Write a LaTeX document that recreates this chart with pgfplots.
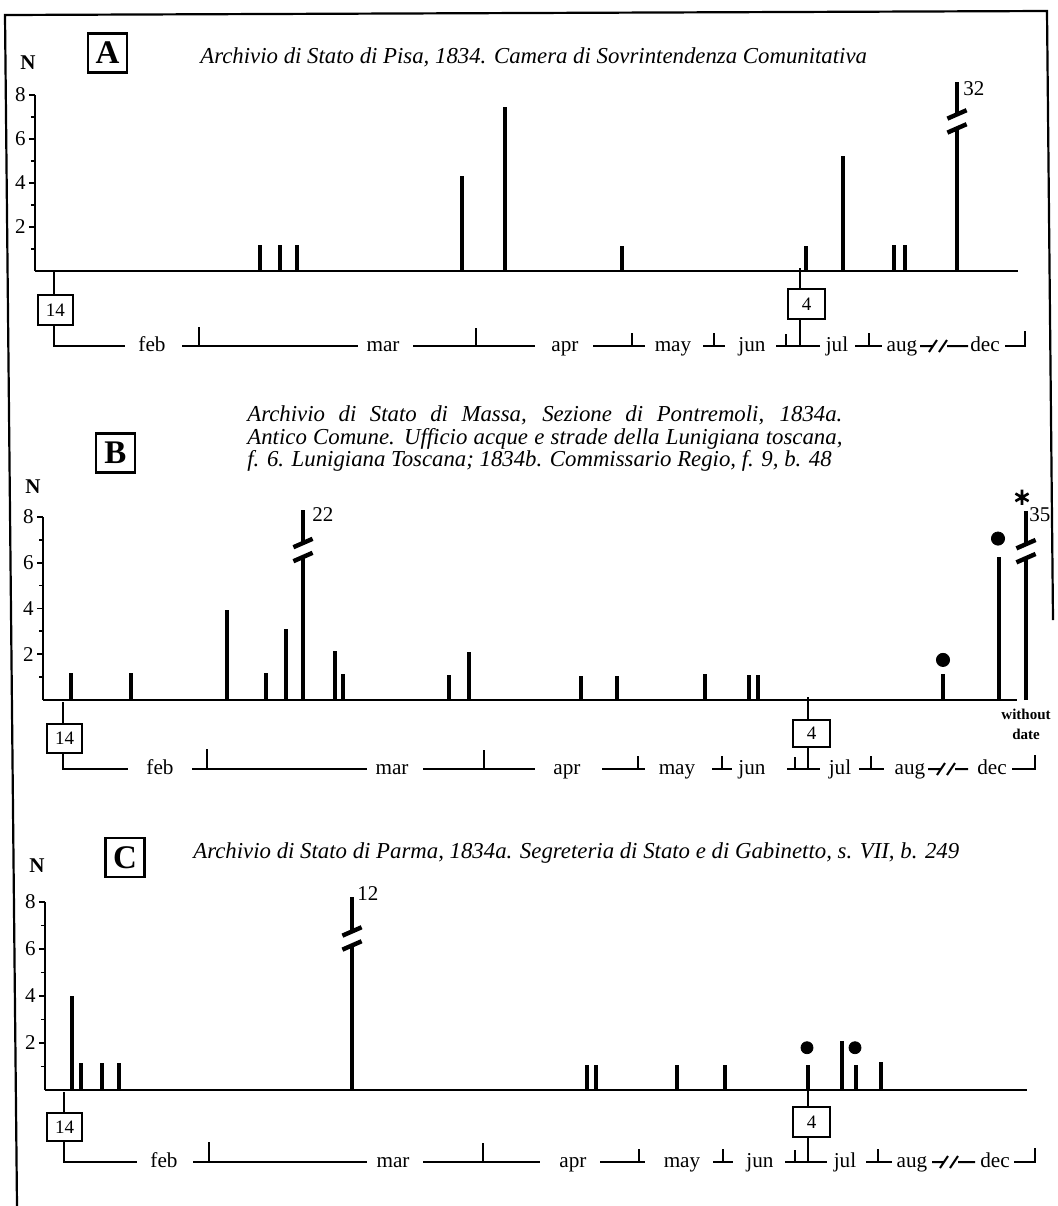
\documentclass[border=0pt]{standalone}
\usepackage{pgfplots}
\pgfplotsset{compat=1.18}
\usepackage{fontspec}
\setmainfont{Liberation Serif}

% axis break: white gap with two slanted strokes
\pgfdeclareplotmark{brk}{%
  \pgfscope
  \pgfsetfillcolor{white}
  \pgfpathmoveto{\pgfqpoint{-2.4pt}{-4.4pt}}
  \pgfpathlineto{\pgfqpoint{2.4pt}{-2.3pt}}
  \pgfpathlineto{\pgfqpoint{2.4pt}{4.4pt}}
  \pgfpathlineto{\pgfqpoint{-2.4pt}{2.3pt}}
  \pgfpathclose
  \pgfusepath{fill}
  \pgfsetlinewidth{2.2pt}
  \pgfsetstrokecolor{black}
  \pgfpathmoveto{\pgfqpoint{-4.8pt}{-5.6pt}}
  \pgfpathlineto{\pgfqpoint{4.8pt}{-1.4pt}}
  \pgfpathmoveto{\pgfqpoint{-4.8pt}{1.4pt}}
  \pgfpathlineto{\pgfqpoint{4.8pt}{5.6pt}}
  \pgfusepath{stroke}
  \endpgfscope
}

\newcommand{\ttl}{\itshape\fontsize{11.4}{11.4}\selectfont}
\newcommand{\mfont}{\fontsize{10.6}{10.6}\selectfont}

\pgfplotsset{
  panel/.style={
    x=0.5pt, scale only axis, anchor=south west,
    axis lines=left, axis line style={-, line width=1.3pt},
    every outer x axis line/.append style={-},
    every outer y axis line/.append style={-},
    enlargelimits=false, clip=false,
    ymin=0, ymax=8, ytick={2,4,6,8}, minor ytick={1,3,5,7},
    xtick=\empty, tick align=outside, ytick pos=left,
    major tick length=3pt, minor tick length=2pt,
    tick style={line width=0.9pt, black},
    yticklabel style={font=\fontsize{10.5}{10.5}\selectfont, inner sep=1.5pt},
    /pgf/number format/assume math mode=true,
  },
  spike/.style={ycomb, black, line width=1.8pt, mark=none},
  brkmark/.style={only marks, mark=brk},
  dots/.style={only marks, mark=*, black, mark size=3.3pt},
}

\tikzset{
  tl/.style={line width=1pt},
  mon/.style={anchor=base, inner sep=0, font=\mfont},
  dbox/.style={draw, line width=1pt, inner sep=0, font=\fontsize{9.5}{9.5}\selectfont},
  pbox/.style={draw, line width=1.1pt, inner sep=0, minimum width=19.5pt, minimum height=19.5pt,
    font=\bfseries\fontsize{16.5}{16.5}\selectfont},
  nlab/.style={font=\bfseries\fontsize{10.5}{10.5}\selectfont, inner sep=0},
  num/.style={anchor=west, inner sep=0, font=\fontsize{10.5}{10.5}\selectfont},
}

\begin{document}
\begin{tikzpicture}
% axes: positions in pt (1 px of the reference = 0.5pt, y downwards = negative)
\begin{axis}[panel, y=11pt, xmin=35, xmax=1018, at={(17.5pt,-135.5pt)}]
\addplot[spike] coordinates {(260,1.2) (280,1.2) (297,1.2) (462,4.3) (505,7.45)
  (622,1.15) (806,1.15) (843,5.25) (894,1.2) (905,1.2) (957,8.6)};
\addplot[brkmark] coordinates {(957,6.8)};
\node[num] at (axis cs:963,8.3) {32};
\end{axis}

\begin{axis}[panel, y=11.45pt, xmin=43, xmax=1017, at={(21.5pt,-350pt)}]
\addplot[spike] coordinates {(71,1.2) (131,1.2) (227,3.95) (266,1.2) (286,3.1)
  (303,8.3) (335,2.15) (343,1.15) (449,1.1) (469,2.1) (581,1.05) (617,1.05)
  (705,1.15) (749,1.1) (758,1.1) (943,1.15) (999,6.25) (1026,8.25)};
\addplot[brkmark] coordinates {(303,6.55) (1026,6.5)};
\addplot[dots] coordinates {(943,1.75) (998,7.05)};
\addplot[only marks, mark=asterisk, black, mark size=3.8pt, line width=1.3pt]
  coordinates {(1022,8.85)};
\node[num] at (axis cs:312,8.1) {22};
\node[num] at (axis cs:1029,8.1) {35};
\end{axis}

\begin{axis}[panel, y=11.75pt, xmin=45, xmax=1027, at={(22.5pt,-545pt)}]
\addplot[spike] coordinates {(72,4.0) (81,1.15) (102,1.15) (119,1.15) (352,8.2)
  (587,1.06) (596,1.06) (677,1.06) (725,1.06) (808,1.06) (842,2.1) (856,1.06) (881,1.2)};
\addplot[brkmark] coordinates {(352,6.45)};
\addplot[dots, mark size=3pt] coordinates {(807,1.8) (855,1.8)};
\node[num] at (axis cs:357,8.35) {12};
\end{axis}

\begin{scope}[x=0.5pt, y=-0.5pt]
\useasboundingbox (0,0) rectangle (1057,1206);

% outer frame
\draw[line width=1.1pt] (17,1206) -- (5,15) -- (1047,11) -- (1053,620);

% ---------------- panel A ----------------
\node[pbox] at (107.5,53) {A};
\node[nlab] at (28,63) {N};
\node[anchor=base west, inner sep=0, font=\ttl] at (200,63)
  {Archivio di Stato di Pisa, 1834. Camera di Sovrintendenza Comunitativa};

\draw[tl] (54,271) -- (54,295);
\node[dbox, minimum width=17.5pt, minimum height=15pt] at (55.5,310) {14};
\draw[tl] (54,325) -- (54,346) -- (125,346);
\node[mon] at (152,351) {feb};
\draw[tl] (182,346) -- (358,346) (199,346) -- (199,327);
\node[mon] at (383,351) {mar};
\draw[tl] (413,346) -- (535,346) (476,346) -- (476,328);
\node[mon] at (565,351) {apr};
\draw[tl] (593,346) -- (645,346) (632,346) -- (632,333);
\node[mon] at (673,351) {may};
\draw[tl] (703,346) -- (725,346) (714,346) -- (714,333);
\node[mon] at (752,351) {jun};
\draw[tl] (776,346) -- (820,346) (786,346) -- (786,334);
\draw[tl] (800,268) -- (800,289) (800,319) -- (800,346);
\node[dbox, minimum width=18.5pt, minimum height=15pt] at (806.5,304) {4};
\node[mon] at (837,351) {jul};
\draw[tl] (855,346) -- (882,346) (869,346) -- (869,333);
\node[mon] at (902,351) {aug};
\draw[tl] (920,346) -- (933,346) (947,346) -- (968,346)
  (929,352) -- (937,340) (939,352) -- (947,340);
\node[mon] at (985,351) {dec};
\draw[tl] (1005,346) -- (1025,346) -- (1025,331);

% ---------------- panel B ----------------
\node[pbox] at (115.5,453) {B};
\node[nlab] at (33,487) {N};
\node[anchor=base west, inner sep=0, font=\ttl] at (247,421)
  {\makebox[297.5pt][s]{Archivio di Stato di Massa, Sezione di Pontremoli, 1834a.}};
\node[anchor=base west, inner sep=0, font=\ttl] at (247,444)
  {\makebox[297.5pt][s]{Antico Comune. Ufficio acque e strade della Lunigiana toscana,}};
\node[anchor=base west, inner sep=0, font=\ttl] at (247,466)
  {f. 6. Lunigiana Toscana; 1834b. Commissario Regio, f. 9, b. 48};

\node[font=\bfseries\fontsize{7.5}{7.5}\selectfont, inner sep=0] at (1026,714) {without};
\node[font=\bfseries\fontsize{7.5}{7.5}\selectfont, inner sep=0] at (1026,734) {date};

\draw[tl] (63,702) -- (63,724);
\node[dbox, minimum width=17.5pt, minimum height=14.5pt] at (64.5,738.5) {14};
\draw[tl] (63,753) -- (63,769) -- (128,769);
\node[mon] at (160,774) {feb};
\draw[tl] (192,769) -- (367,769) (207,769) -- (207,749);
\node[mon] at (392,774) {mar};
\draw[tl] (423,769) -- (535,769) (484,769) -- (484,750);
\node[mon] at (567,774) {apr};
\draw[tl] (602,769) -- (645,769) (638,769) -- (638,756);
\node[mon] at (677,774) {may};
\draw[tl] (712,769) -- (732,769) (722,769) -- (722,756);
\node[mon] at (752,774) {jun};
\draw[tl] (787,769) -- (820,769) (795,769) -- (795,757);
\draw[tl] (808,697) -- (808,720) (808,747) -- (808,769);
\node[dbox, minimum width=18.5pt, minimum height=13.5pt] at (811.5,733.5) {4};
\node[mon] at (840,774) {jul};
\draw[tl] (859,769) -- (884,769) (871,769) -- (871,756);
\node[mon] at (910,774) {aug};
\draw[tl] (928,769) -- (941,769) (955,769) -- (968,769)
  (937,775) -- (945,763) (947,775) -- (955,763);
\node[mon] at (992,774) {dec};
\draw[tl] (1012,769) -- (1035,769) -- (1035,755);

% ---------------- panel C ----------------
\node[pbox] at (125,857.5) {C};
\node[nlab] at (37,866) {N};
\node[anchor=base west, inner sep=0, font=\ttl] at (193,858)
  {Archivio di Stato di Parma, 1834a. Segreteria di Stato e di Gabinetto, s. VII, b. 249};

\draw[tl] (64,1092) -- (64,1113);
\node[dbox, minimum width=17.5pt, minimum height=14pt] at (64.5,1127) {14};
\draw[tl] (64,1141) -- (64,1162) -- (137,1162);
\node[mon] at (164,1167) {feb};
\draw[tl] (193,1162) -- (367,1162) (209,1162) -- (209,1142);
\node[mon] at (393,1167) {mar};
\draw[tl] (423,1162) -- (540,1162) (483,1162) -- (483,1143);
\node[mon] at (573,1167) {apr};
\draw[tl] (600,1162) -- (645,1162) (639,1162) -- (639,1149);
\node[mon] at (682,1167) {may};
\draw[tl] (713,1162) -- (733,1162) (723,1162) -- (723,1149);
\node[mon] at (760,1167) {jun};
\draw[tl] (785,1162) -- (827,1162) (795,1162) -- (795,1150);
\draw[tl] (808,1088) -- (808,1107) (808,1137) -- (808,1162);
\node[dbox, minimum width=18.5pt, minimum height=15pt] at (811.5,1122) {4};
\node[mon] at (845,1167) {jul};
\draw[tl] (866,1162) -- (892,1162) (878,1162) -- (878,1149);
\node[mon] at (912,1167) {aug};
\draw[tl] (932,1162) -- (944,1162) (958,1162) -- (975,1162)
  (940,1168) -- (948,1156) (950,1168) -- (958,1156);
\node[mon] at (995,1167) {dec};
\draw[tl] (1014,1162) -- (1035,1162) -- (1035,1148);
\end{scope}

\end{tikzpicture}
\end{document}
